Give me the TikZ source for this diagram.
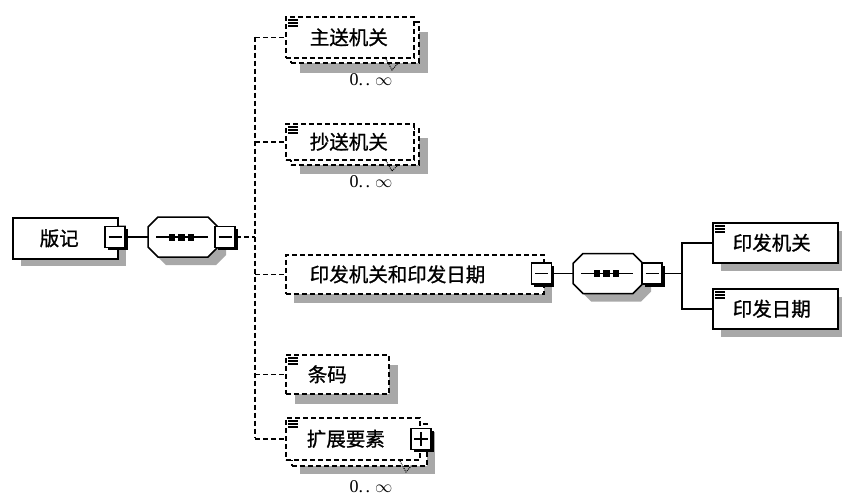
\documentclass[tikz,border=0pt]{standalone}
\usepackage{fontspec}
\newfontfamily\cjk[FakeBold=1]{Noto Sans CJK SC}
\newfontfamily\cardfont{Liberation Serif}
\usetikzlibrary{shadows,calc}
\definecolor{shd}{RGB}{168,168,168}
\newcommand\octpath[1]{($(#1.north west)+(0,-10pt)$) -- ($(#1.north west)+(10pt,0)$) -- ($(#1.north east)+(-10pt,0)$) -- ($(#1.north east)+(0,-10pt)$) -- ($(#1.south east)+(0,10pt)$) -- ($(#1.south east)+(-10pt,0)$) -- ($(#1.south west)+(10pt,0)$) -- ($(#1.south west)+(0,10pt)$) -- cycle}
\newcommand\elicon[1]{\foreach \d in {4,7,10} \draw[line width=1.4pt] ([xshift=3pt,yshift=-\d pt]#1.north west) -- ++(10pt,0);}
\tikzset{
  dsh/.style={dash pattern=on 5pt off 3pt},
  conn/.style={line width=1.5pt, dsh},
  solidconn/.style={line width=1.5pt},
  elem/.style={draw, line width=1.5pt, fill=white, anchor=north west, inner ysep=0pt, align=left, font=\cjk\fontsize{19.5}{19.5}\selectfont},
  optelem/.style={elem, dsh, line width=1.6pt},
  sh/.style 2 args={drop shadow={shadow xshift=#1pt, shadow yshift=-#2pt, fill=shd, opacity=1}},
  tog/.style={draw, line width=1.5pt, fill=white, minimum width=20pt, minimum height=21pt, inner sep=0pt, drop shadow={shadow xshift=2.5pt, shadow yshift=-2.5pt, fill=black, opacity=1}},
  minusbox/.style={tog, path picture={\draw[line width=1.4pt] ([xshift=-6.5pt]path picture bounding box.center) -- ([xshift=6.5pt]path picture bounding box.center);}},
  plusbox/.style={tog, path picture={\draw[line width=1.6pt] ([xshift=-7pt]path picture bounding box.center) -- ([xshift=7pt]path picture bounding box.center) ([yshift=-7pt]path picture bounding box.center) -- ([yshift=7pt]path picture bounding box.center);}},
  seqbox/.style={inner sep=0pt, outer sep=0pt, minimum width=70pt, minimum height=40pt, anchor=north west},
  card/.style={font=\cardfont\fontsize{18}{18}\selectfont, inner sep=0pt},
  vmark/.style={line width=1pt, densely dotted}
}
\newcommand\cardtext{0.\hspace{2.5pt}.\hspace{5pt}$\infty$}
\begin{document}
\begin{tikzpicture}[x=1pt,y=-1pt]
\useasboundingbox (0,0) rectangle (842,498);
\fill[white] (0,0) rectangle (842,498);

% root element
\node[elem, sh={8}{7}, inner xsep=27pt, text width=51pt, minimum height=41pt] (b0) at (12,217) {版记};
\node[minusbox] (m1) at (115,237) {};

% sequence 1
\node[seqbox] (s1) at (148,217) {};
\fill[shd, transform canvas={xshift=8pt,yshift=-8pt}] \octpath{s1};
\draw[line width=1.5pt, fill=white] \octpath{s1};
\draw[line width=1.5pt] ([xshift=-27pt]s1.center) -- ([xshift=25pt]s1.center);
\foreach \dx in {-14.5,-5,4.5} \fill ([xshift=\dx pt, yshift=-3.5pt]s1.center) rectangle ++(6.5pt,7pt);
\node[minusbox] (m2) at (225,237) {};

% children of sequence 1
\node[optelem, sh={9}{10}, minimum width=128pt, minimum height=41pt] (e1b) at (290,21) {};
\node[optelem, inner xsep=24pt, text width=80pt, minimum height=41pt] (e1) at (285,16) {主送机关};
\elicon{e1}
\draw[vmark] (385,57) -- (392,70) -- (399,62);
\node[card] (l1) at (371,80) {\cardtext};

\node[optelem, sh={9}{9}, minimum width=128pt, minimum height=36pt] (e2b) at (290,128) {};
\node[optelem, inner xsep=24pt, text width=80pt, minimum height=36pt] (e2) at (285,123) {抄送机关};
\elicon{e2}
\draw[vmark] (385,159) -- (392,171) -- (399,164);
\node[card] (l2) at (371,182) {\cardtext};

\node[optelem, sh={8}{9}, inner xsep=24pt, text width=210pt, minimum height=39pt] (e3) at (285,254) {印发机关和印发日期};
\node[minusbox] (m3) at (541.5,273.5) {};

\node[optelem, sh={9}{10}, inner xsep=22pt, text width=59pt, minimum height=39pt] (e4) at (285,354) {条码};
\elicon{e4}

\node[optelem, sh={8}{8}, minimum width=135pt, minimum height=42pt] (e5b) at (291,423) {};
\node[optelem, inner xsep=21pt, text width=92pt, minimum height=42pt] (e5) at (285,417) {扩展要素};
\elicon{e5}
\node[plusbox] (m5) at (421,439) {};
\draw[vmark] (400,461) -- (406,472) -- (412,465);
\node[card] (l3) at (371,487) {\cardtext};

% sequence 2
\node[seqbox] (s2) at (573,253.5) {};
\fill[shd, transform canvas={xshift=8pt,yshift=-8pt}] \octpath{s2};
\draw[line width=1.5pt, fill=white] \octpath{s2};
\draw[line width=1.5pt] ([xshift=-27pt]s2.center) -- ([xshift=25pt]s2.center);
\foreach \dx in {-14.5,-5,4.5} \fill ([xshift=\dx pt, yshift=-3.5pt]s2.center) rectangle ++(6.5pt,7pt);
\node[minusbox] (m4) at (652,273.5) {};

\node[elem, sh={8}{8}, inner xsep=20pt, text width=85pt, minimum height=40pt] (f1) at (712,222) {印发机关};
\elicon{f1}
\node[elem, sh={8}{8}, inner xsep=20pt, text width=85pt, minimum height=40pt] (f2) at (712,288) {印发日期};
\elicon{f2}

% connectors
\draw[solidconn] (m1.east) -- (m1.east -| s1.west);
\coordinate (j1) at (255,237);
\coordinate (jt) at (255,36.5);
\coordinate (jb) at (255,438);
\draw[conn] (m2.east) -- (j1);
\draw[conn] (jt) -- (jb);
\draw[conn] (e1.west -| jt) -- (e1.west);
\draw[conn] (e2.west -| jt) -- (e2.west);
\draw[conn] (e3.west -| jt) -- (e3.west);
\draw[conn] (e4.west -| jt) -- (e4.west);
\draw[conn] (e5.west -| jt) -- (e5.west);

\draw[solidconn] (m3.east) -- (m3.east -| s2.west);
\coordinate (j2) at (682,273.5);
\draw[solidconn] (m4.east) -- (j2);
\draw[solidconn] (f1.west) -| (j2) |- (f2.west);
\end{tikzpicture}
\end{document}
